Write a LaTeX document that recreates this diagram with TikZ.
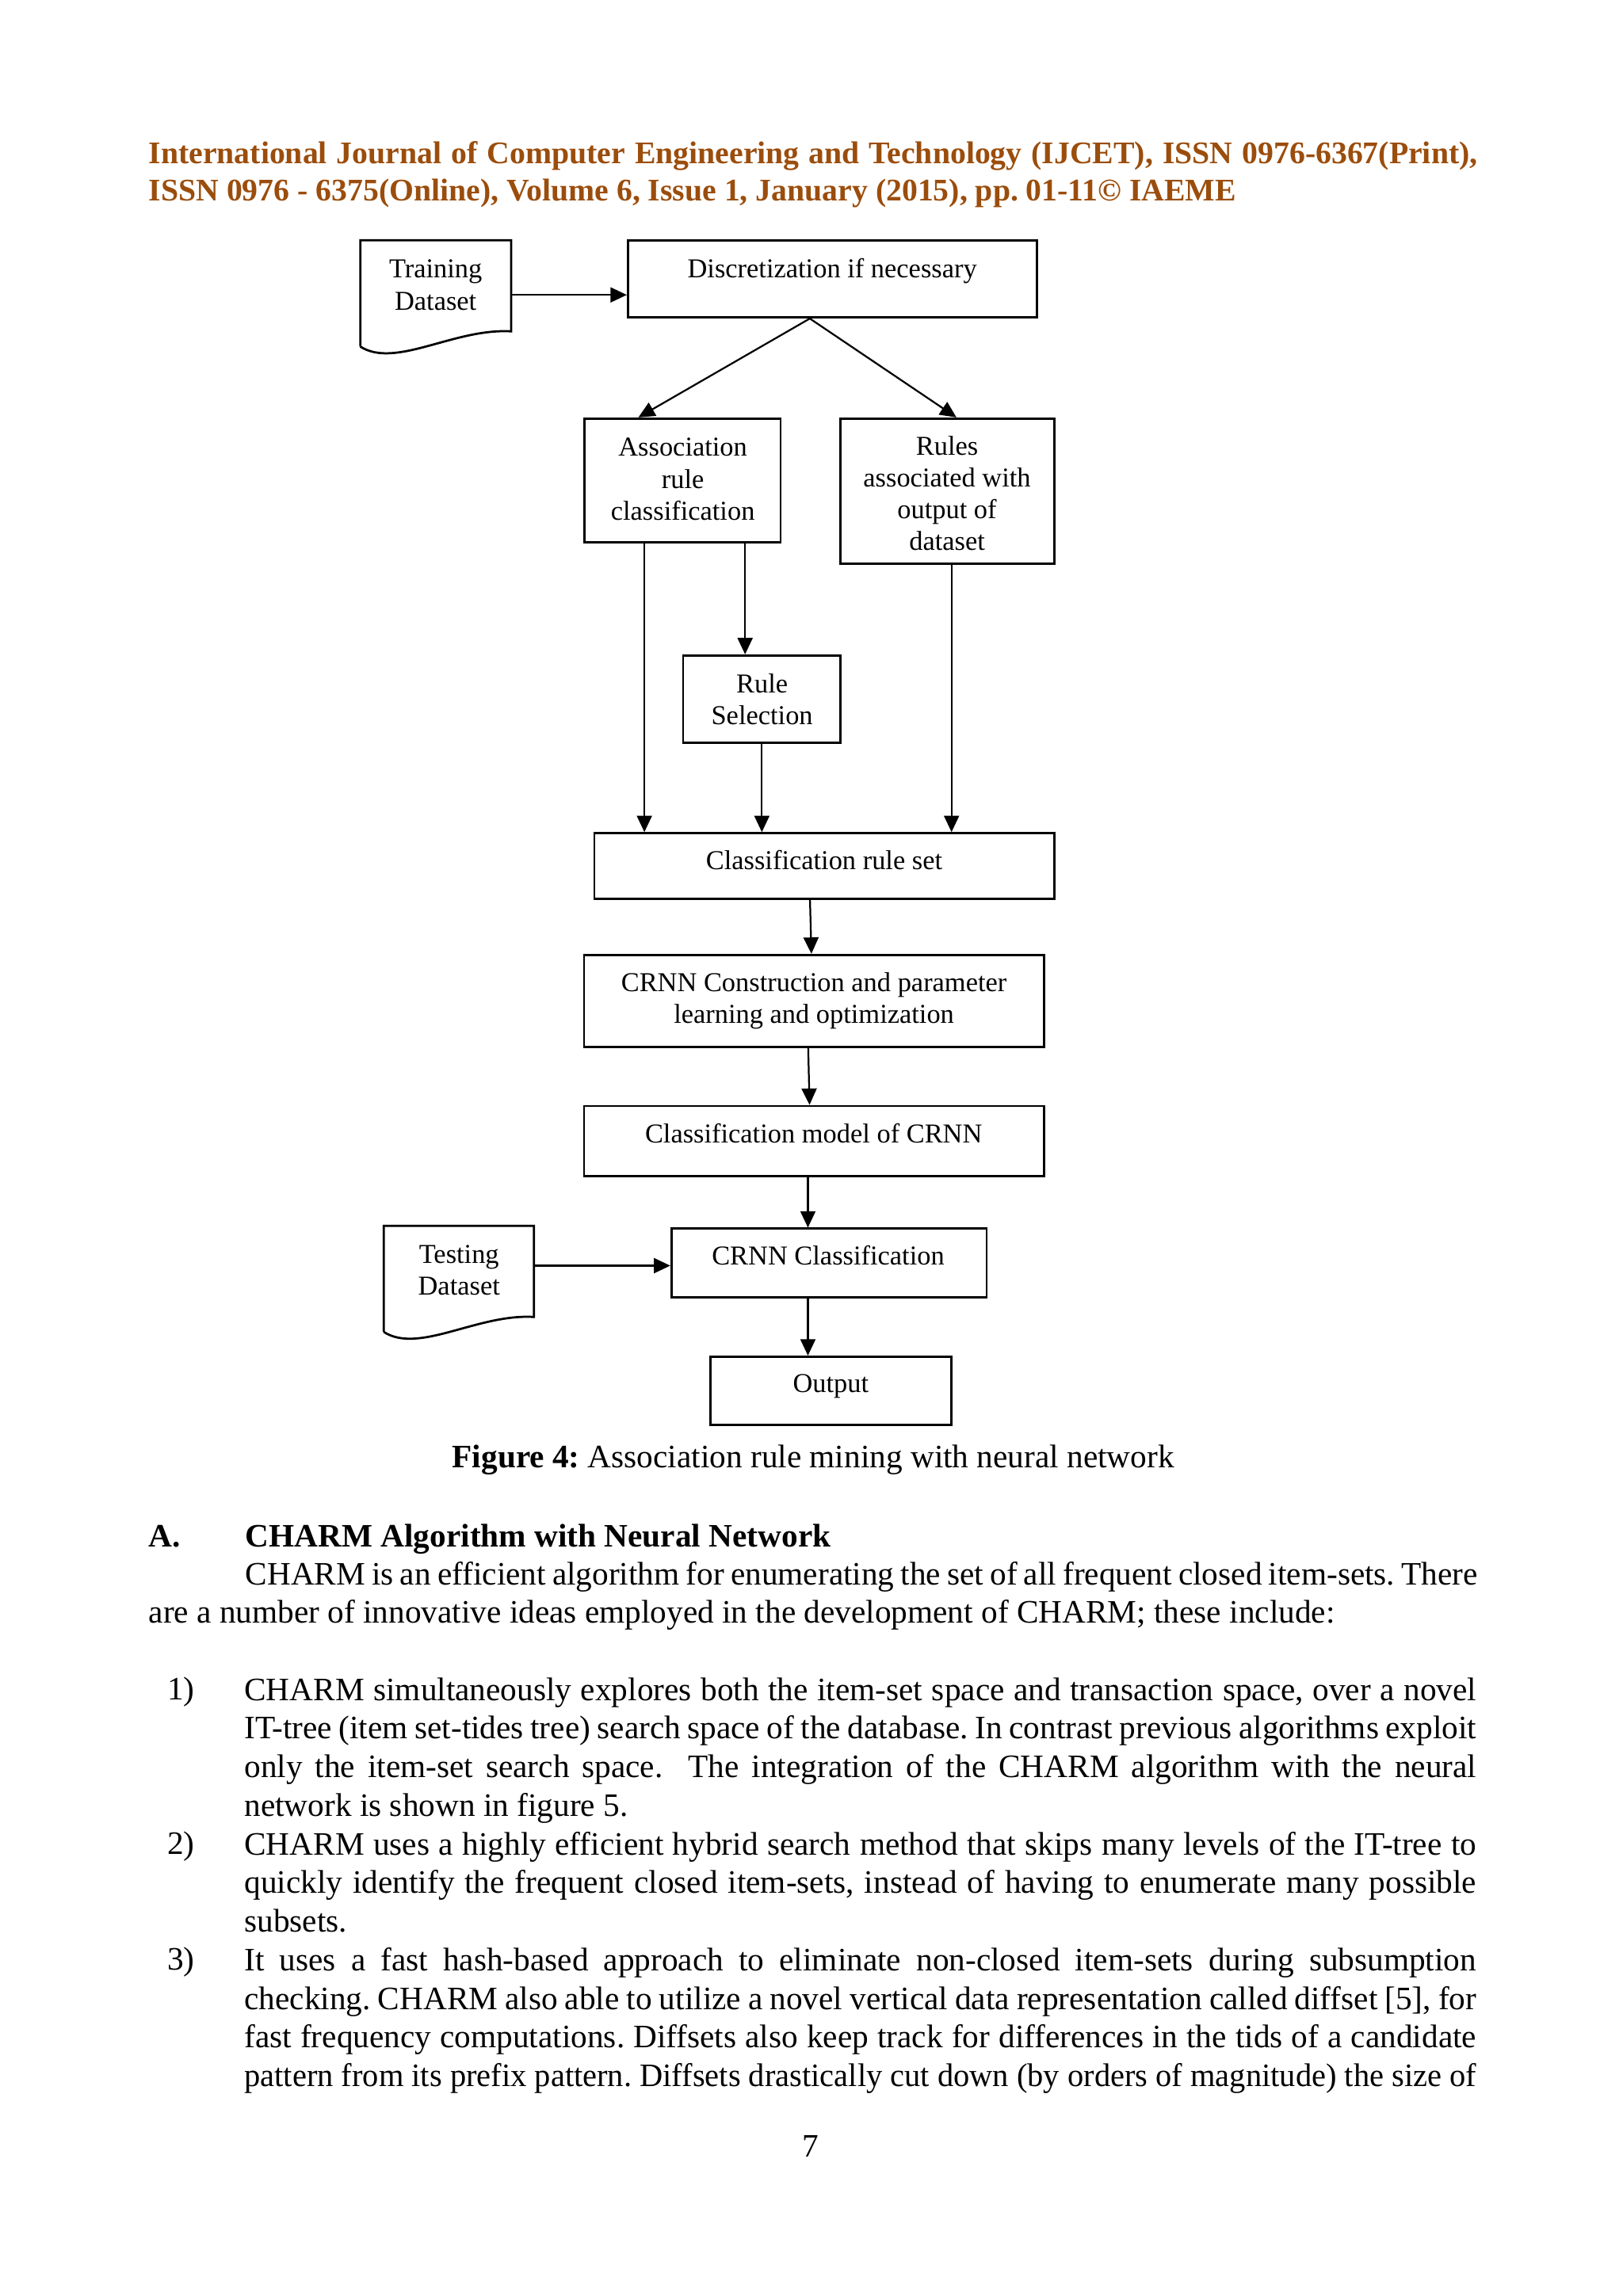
\documentclass[tikz,border=0pt]{standalone}
\usepackage{fontspec}
\setmainfont[WordSpace={1,1.2,1.6}]{Liberation Serif}
\usetikzlibrary{arrows.meta,fit,calc}
\definecolor{hdr}{RGB}{155,77,12}
\newcommand\bodysetup{\frenchspacing\tolerance=9999\relax\hyphenpenalty=10000\relax\emergencystretch=0pt\relax}
\begin{document}
\frenchspacing
\begin{tikzpicture}[x={(0.537004pt,0pt)}, y={(0pt,-0.537004pt)},
  box/.style={draw, line width=0.8pt, inner sep=0pt},
  area/.style={inner sep=0pt},
  docline/.style={line width=0.8pt},
  arr/.style={line width=0.65pt, -{Triangle[length=6pt,width=5.5pt]}},
  lbl/.style={inner sep=0pt, align=center, font=\fontsize{10}{11.7}\selectfont},
  txt/.style={inner sep=0pt, font=\fontsize{12}{13.8}\selectfont},
  body/.style={inner sep=0pt, align=justify, font=\fontsize{12}{14.17}\selectfont},
]
\useasboundingbox (0,0) rectangle (1108,1568);

% header
\node[anchor=north west, inner sep=0pt, text width=487.2pt, align=justify,
      font=\fontsize{11.55}{13.8}\selectfont\bfseries, text=hdr] (head) at (101.2,93.3)
 {\bodysetup\noindent\strut International Journal of Computer Engineering and Technology (IJCET), ISSN 0976-6367(Print),\linebreak ISSN 0976 - 6375(Online), Volume 6, Issue 1, January (2015), pp. 01-11© IAEME};

% document shapes
\node[area, fit={(246,164.1)(349,236.7)}] (train) {};
\draw[docline] (246,236.7) -- (246,164.1) -- (349,164.1) -- (349,226.3)
  .. controls (310,224) and (270,252) .. (246,236.7);
\node[area, fit={(262,837.1)(364.6,909.6)}] (test) {};
\draw[docline] (262,909.6) -- (262,837.1) -- (364.6,837.1) -- (364.6,899.4)
  .. controls (326,897) and (286,925) .. (262,909.6);

% boxes
\node[box, fit={(428.7,164.1)(708.1,216.8)}] (disc) {};
\node[box, fit={(398.9,285.8)(533,370.2)}] (assoc) {};
\node[box, fit={(573.6,285.8)(719.7,385)}] (rules) {};
\node[box, fit={(466.4,447.6)(573.9,507.3)}] (rulesel) {};
\node[box, fit={(405.8,569)(719.8,613.7)}] (crs) {};
\node[box, fit={(398.7,652.1)(712.7,715.2)}] (crnn) {};
\node[box, fit={(398.7,755.3)(712.7,803.3)}] (model) {};
\node[box, fit={(458.4,839.1)(673.6,885.9)}] (crnncl) {};
\node[box, fit={(485.1,926.5)(649.7,972.9)}] (out) {};

% labels
\node[lbl, anchor=north] (ttrain) at (297.4,174.2) {\strut Training\\Dataset};
\node[lbl, anchor=base] (tdisc) at (568.2,189.4) {Discretization if necessary};
\node[lbl, anchor=north] (tassoc) at (466.2,295.9) {\strut Association\\rule\\classification};
\node[lbl, anchor=north] (trules) at (646.6,295.0) {\strut Rules\\associated with\\output of\\dataset};
\node[lbl, anchor=north] (tsel) at (520.3,457.3) {\strut Rule\\Selection};
\node[lbl, anchor=base] (tcrs) at (562.7,593.7) {Classification rule set};
\node[lbl, anchor=north] (tcrnn) at (555.7,661.3) {\strut CRNN Construction and parameter\\learning and optimization};
\node[lbl, anchor=base] (tmodel) at (555.5,780.3) {Classification model of CRNN};
\node[lbl, anchor=north] (ttest) at (313.4,847.2) {\strut Testing\\Dataset};
\node[lbl, anchor=base] (tcl) at (565.4,863.7) {CRNN Classification};
\node[lbl, anchor=base] (tout) at (567.2,951.1) {Output};

% connectors
\draw[arr] ($(train.east)+(0,1)$) coordinate (c1) -- (c1 -| disc.west);
\draw[arr] ($(disc.south)+(-15.5,0)$) -- ($(assoc.north)+(-30.1,0)$);
\draw[arr] ($(disc.south)+(-15.5,0)$) -- ($(rules.north)+(6.35,0)$);
\draw[arr] ($(assoc.south)+(-26,0)$) coordinate (c2) -- (c2 |- crs.north);
\draw[arr] ($(assoc.south)+(42.75,0)$) coordinate (c3) -- (c3 |- rulesel.north);
\draw[arr] (rulesel.south) -- (rulesel.south |- crs.north);
\draw[arr] ($(rules.south)+(3,0)$) coordinate (c4) -- (c4 |- crs.north);
\draw[arr] ($(crs.south)+(-9.8,0)$) -- ($(crnn.north)+(-1.7,0)$);
\draw[arr] ($(crnn.south)+(-3.9,0)$) -- ($(model.north)+(-3,0)$);
\draw[arr] ($(model.south)+(-4.1,0)$) coordinate (c5) -- (c5 |- crnncl.north);
\draw[arr] (c5 |- crnncl.south) coordinate (c6) -- (c6 |- out.north);
\draw[arr] ($(test.east)+(0,-9)$) coordinate (c7) -- (c7 -| crnncl.west);

% caption
\node[txt, anchor=base west] (cap) at (308.4,1002.5) {\textbf{Figure 4:} Association rule mining with neural network};

% section
\node[txt, anchor=base west, font=\fontsize{12}{13.8}\selectfont\bfseries] (secA) at (101.2,1056.2) {A.};
\node[txt, anchor=base west, font=\fontsize{12}{13.8}\selectfont\bfseries] (secT) at (167.2,1056.2) {CHARM Algorithm with Neural Network};

\node[body, anchor=north west, text width=487.2pt, font=\fontsize{12}{13.86}\selectfont] (para) at (101.2,1063.9)
 {\bodysetup\noindent\strut\hspace*{35.44pt}CHARM is an efficient algorithm for enumerating the set of all frequent closed item-sets. There\linebreak are a number of innovative ideas employed in the development of CHARM; these include:};

% items
\node[txt, anchor=base west] (n1) at (113.8,1160.8) {1)};
\node[body, anchor=north west, text width=451.7pt] (it1) at (166.5,1142.3)
 {\bodysetup\noindent\strut CHARM simultaneously explores both the item-set space and transaction space, over a novel\linebreak IT-tree (item set-tides tree) search space of the database. In contrast previous algorithms exploit\linebreak only the item-set search space.\ \ The integration of the CHARM algorithm with the neural\linebreak network is shown in figure 5.};

\node[txt, anchor=base west] (n2) at (113.8,1266.3) {2)};
\node[body, anchor=north west, text width=451.7pt] (it2) at (166.5,1247.8)
 {\bodysetup\noindent\strut CHARM uses a highly efficient hybrid search method that skips many levels of the IT-tree to\linebreak quickly identify the frequent closed item-sets, instead of having to enumerate many possible\linebreak subsets.};

\node[txt, anchor=base west] (n3) at (113.8,1345.5) {3)};
\node[body, anchor=north west, text width=451.7pt] (it3) at (166.5,1327.0)
 {\bodysetup\noindent\strut It uses a fast hash-based approach to eliminate non-closed item-sets during subsumption\linebreak checking. CHARM also able to utilize a novel vertical data representation called diffset [5], for\linebreak fast frequency computations. Diffsets also keep track for differences in the tids of a candidate\linebreak \resizebox{\hsize}{\height}{pattern from its prefix pattern. Diffsets drastically cut down (by orders of magnitude) the size of}};

% page number
\node[txt, anchor=base] (pg) at (553.5,1473.2) {7};
\end{tikzpicture}
\end{document}
